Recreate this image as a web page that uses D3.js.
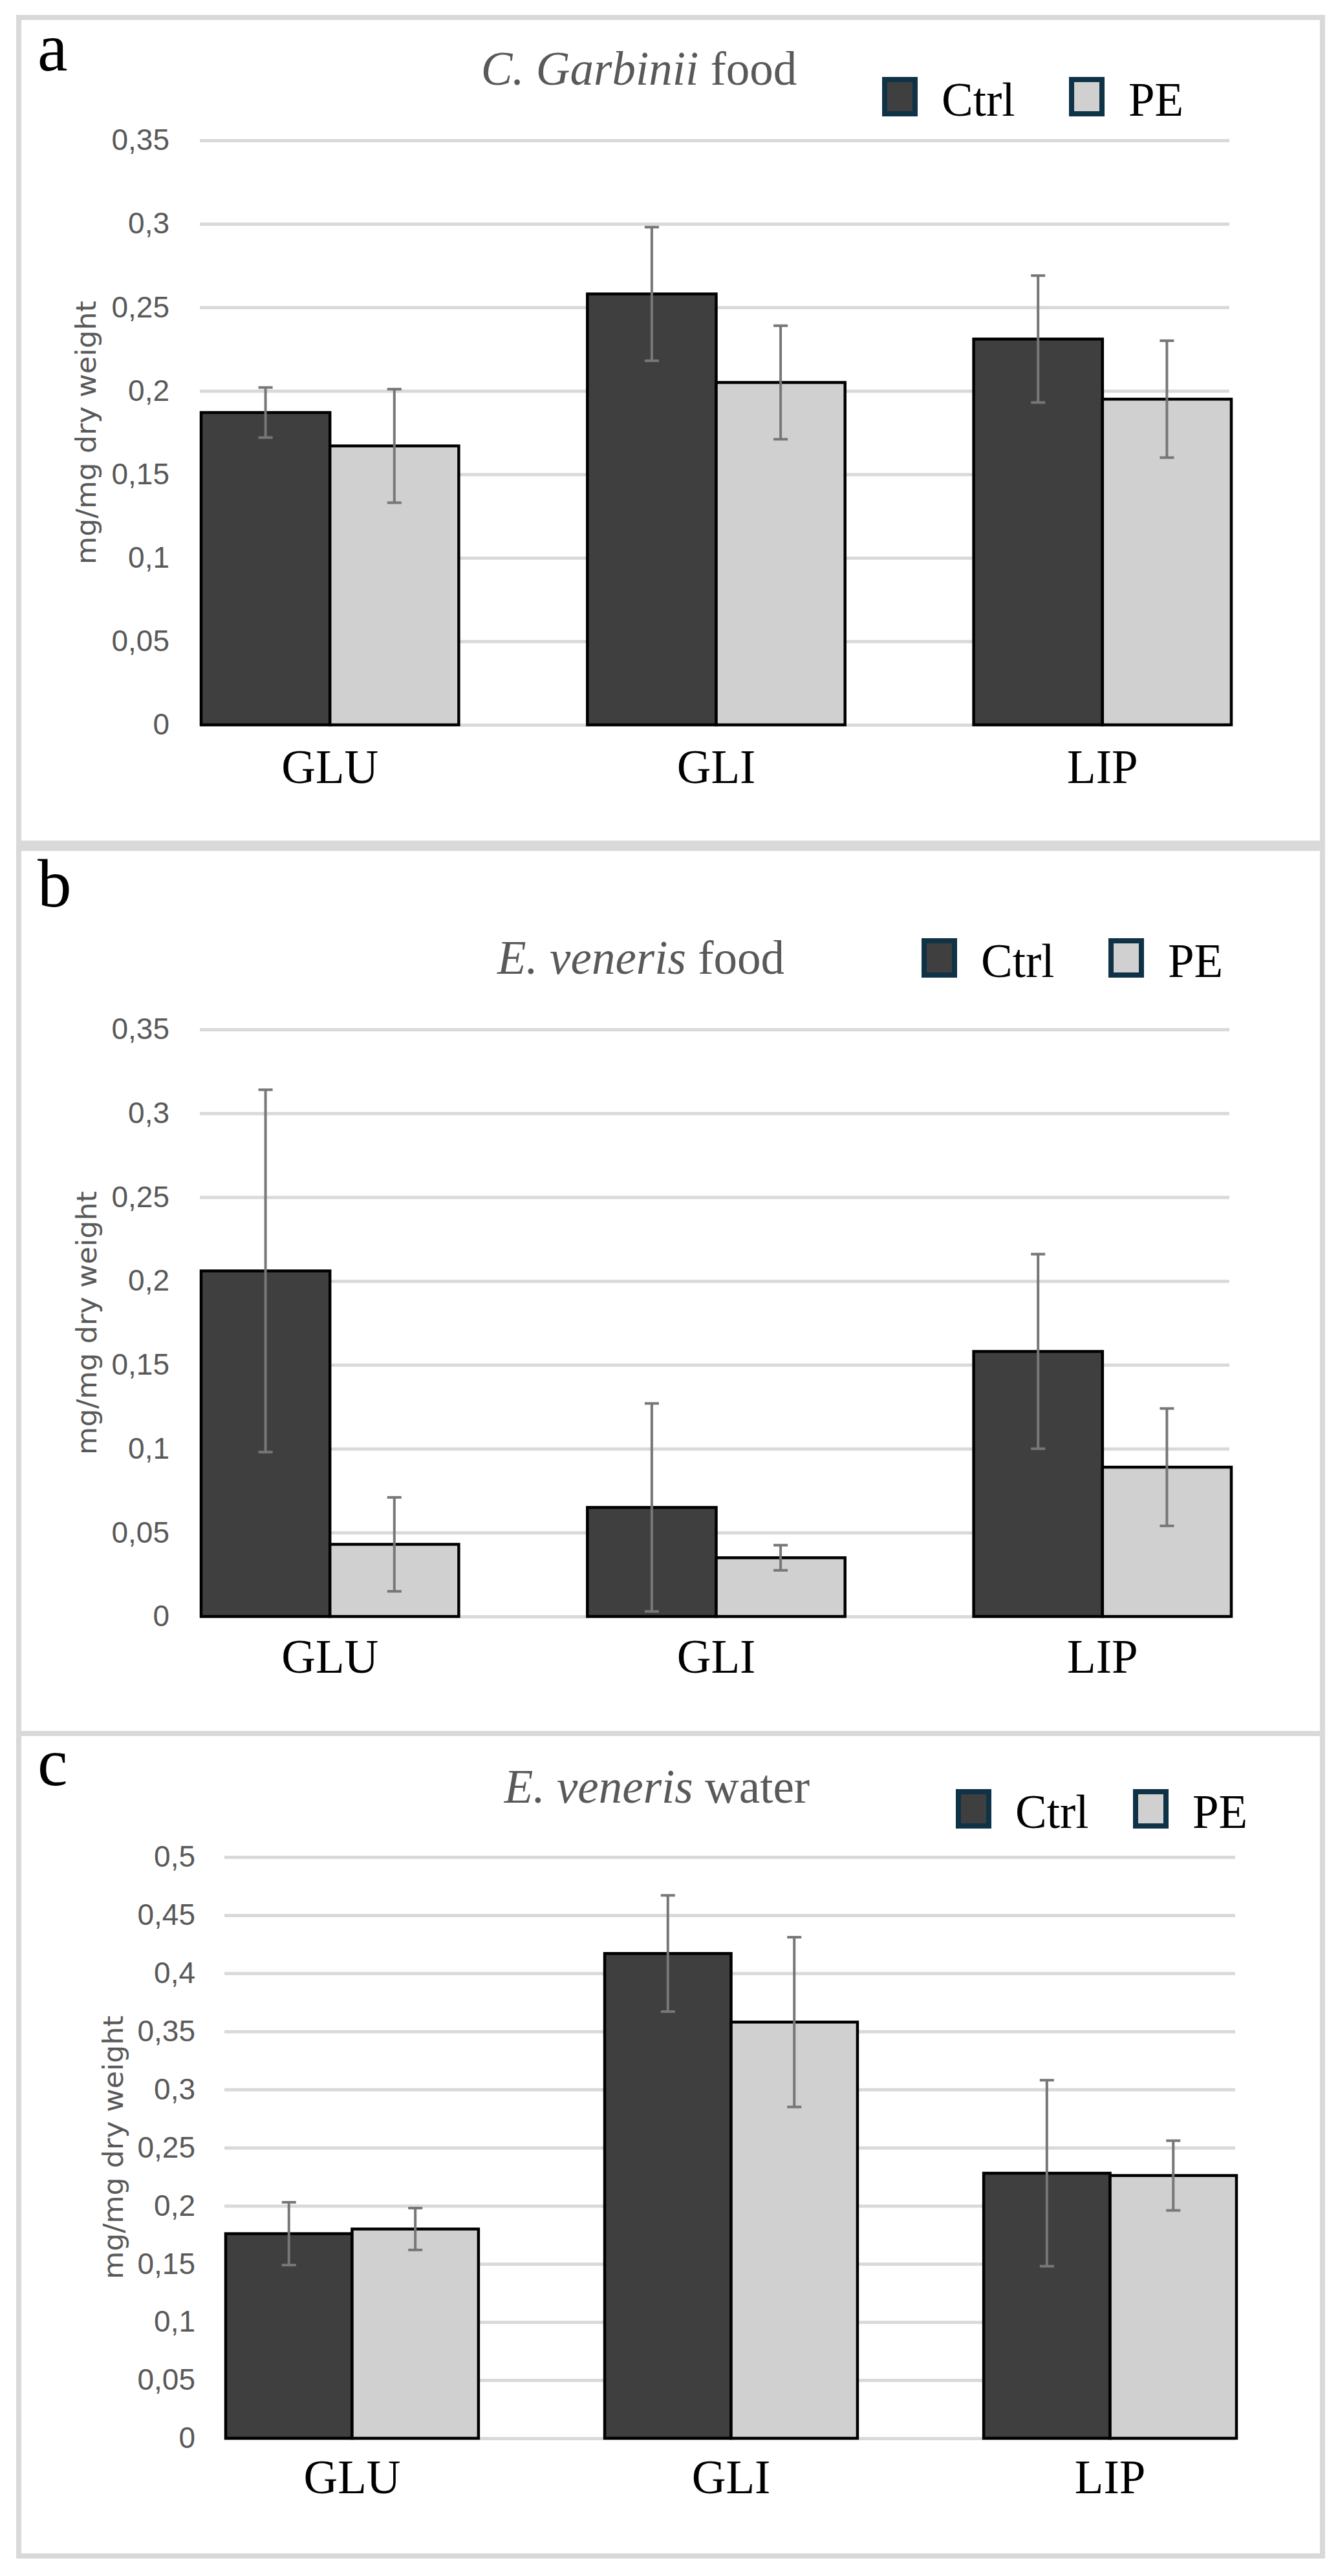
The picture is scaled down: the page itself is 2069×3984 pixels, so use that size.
<!DOCTYPE html>
<html>
<head>
<meta charset="utf-8">
<script src="https://cdn.jsdelivr.net/npm/d3@7"></script>
<style>
  body { margin: 0; background: #fff; }
</style>
</head>
<body>
<div id="chart"></div>
<script>
// data
const categories = ["GLU", "GLI", "LIP"];
const groups = ["Ctrl", "PE"];

const ctrlA = [0.187, 0.258, 0.231];
const ctrlErrA = [0.015, 0.040, 0.038];
const peA = [0.167, 0.205, 0.195];
const peErrA = [0.034, 0.034, 0.035];

const ctrlB = [0.206, 0.065, 0.158];
const ctrlErrB = [0.108, 0.062, 0.058];
const peB = [0.043, 0.035, 0.089];
const peErrB = [0.028, 0.0075, 0.035];

const ctrlC = [0.176, 0.417, 0.228];
const ctrlErrC = [0.027, 0.050, 0.080];
const peC = [0.180, 0.358, 0.226];
const peErrC = [0.018, 0.073, 0.030];

const ticksAB = [0, 0.05, 0.1, 0.15, 0.2, 0.25, 0.3, 0.35];
const ticksC = [0, 0.05, 0.1, 0.15, 0.2, 0.25, 0.3, 0.35, 0.4, 0.45, 0.5];

const yTitle = "mg/mg dry weight";

const fill = d3.scaleOrdinal().domain(groups).range(["#3f3f3f", "#d0d0d0"]);
const fmt = d3.formatLocale({ decimal: ",", thousands: ".", grouping: [3], currency: ["", "€"] }).format("~g");

const serif = "'Liberation Serif', 'Times New Roman', serif";
const sans = "'Liberation Sans', Arial, sans-serif";

const panels = [
  { letter: "a", italic: "C. Garbinii", rest: " food",
    ctrl: ctrlA, ctrlErr: ctrlErrA, pe: peA, peErr: peErrA, ticks: ticksAB,
    box: [29, 27, 2045, 1304], x: [311, 1904], grid: [309, 1901], y: [1121, 217],
    letterY: 109, titleX: 988, titleY: 131, legX: [1364, 1653], legY: 119,
    labelY: 1211, tickX: 262, yt: [133, 669] },
  { letter: "b", italic: "E. veneris", rest: " food",
    ctrl: ctrlB, ctrlErr: ctrlErrB, pe: peB, peErr: peErrB, ticks: ticksAB,
    box: [29, 1312, 2045, 2681], x: [311, 1904], grid: [309, 1901], y: [2500, 1592],
    letterY: 1402, titleX: 991, titleY: 1506, legX: [1425, 1714], legY: 1451,
    labelY: 2587, tickX: 262, yt: [134, 2046] },
  { letter: "c", italic: "E. veneris", rest: " water",
    ctrl: ctrlC, ctrlErr: ctrlErrC, pe: peC, peErr: peErrC, ticks: ticksC,
    box: [29, 2681, 2045, 3953], x: [349, 1912], grid: [347, 1910], y: [3771, 2872],
    letterY: 2761, titleX: 1016, titleY: 2788, legX: [1478, 1752], legY: 2767,
    labelY: 3856, tickX: 302, yt: [175, 3321] }
];

const svg = d3.select("#chart")
  .append("svg")
  .attr("width", 2069)
  .attr("height", 3984);

panels.forEach((p) => {
  const g = svg.append("g");

  // panel frame
  g.append("rect")
    .attr("x", p.box[0])
    .attr("y", p.box[1])
    .attr("width", p.box[2] - p.box[0])
    .attr("height", p.box[3] - p.box[1])
    .attr("fill", "none")
    .attr("stroke", "#d9d9d9")
    .attr("stroke-width", 8);

  const xScale = d3.scaleBand()
    .domain(categories)
    .range(p.x)
    .paddingInner(0.333)
    .paddingOuter(0);

  const xSub = d3.scaleBand()
    .domain(groups)
    .range([0, xScale.bandwidth()]);

  const yScale = d3.scaleLinear()
    .domain([0, d3.max(p.ticks)])
    .range(p.y);

  // gridlines + tick labels
  const yAxis = d3.axisLeft(yScale)
    .tickValues(p.ticks)
    .tickFormat(fmt)
    .tickSize(-(p.grid[1] - p.grid[0]))
    .tickPadding(p.grid[0] - p.tickX);

  const ya = g.append("g")
    .attr("transform", "translate(" + p.grid[0] + ",0)")
    .call(yAxis);
  ya.select(".domain").remove();
  ya.selectAll("line").attr("stroke", "#d9d9d9").attr("stroke-width", 5);
  ya.selectAll("text")
    .attr("fill", "#595959")
    .style("font-family", sans)
    .style("font-size", "46px");

  // y title
  g.append("text")
    .attr("transform", "translate(" + p.yt[0] + "," + p.yt[1] + ") rotate(-90)")
    .attr("text-anchor", "middle")
    .attr("dy", "0.35em")
    .attr("textLength", 408)
    .attr("lengthAdjust", "spacingAndGlyphs")
    .attr("fill", "#595959")
    .style("font-family", "'DejaVu Sans', sans-serif")
    .style("font-size", "42px")
    .text(yTitle);

  // rows for bars
  const rows = categories.map((c, i) => ({
    cat: c,
    vals: [
      { key: "Ctrl", v: p.ctrl[i], e: p.ctrlErr[i] },
      { key: "PE", v: p.pe[i], e: p.peErr[i] }
    ]
  }));

  const cat = g.selectAll(".cat")
    .data(rows)
    .enter()
    .append("g")
    .attr("class", "cat")
    .attr("transform", (d) => "translate(" + xScale(d.cat) + ",0)");

  cat.selectAll("rect")
    .data((d) => d.vals)
    .enter()
    .append("rect")
    .attr("x", (d) => xSub(d.key))
    .attr("y", (d) => yScale(d.v))
    .attr("width", xSub.bandwidth())
    .attr("height", (d) => yScale(0) - yScale(d.v))
    .attr("fill", (d) => fill(d.key))
    .attr("stroke", "#000")
    .attr("stroke-width", 4.5);

  // error bars
  const err = cat.selectAll(".err")
    .data((d) => d.vals)
    .enter()
    .append("g")
    .attr("class", "err")
    .attr("transform", (d) => "translate(" + (xSub(d.key) + xSub.bandwidth() / 2) + ",0)")
    .attr("stroke", "#777")
    .attr("stroke-width", 4);

  err.append("line")
    .attr("y1", (d) => yScale(d.v + d.e))
    .attr("y2", (d) => yScale(d.v - d.e));
  err.append("line")
    .attr("x1", -11).attr("x2", 11)
    .attr("y1", (d) => yScale(d.v + d.e))
    .attr("y2", (d) => yScale(d.v + d.e));
  err.append("line")
    .attr("x1", -11).attr("x2", 11)
    .attr("y1", (d) => yScale(d.v - d.e))
    .attr("y2", (d) => yScale(d.v - d.e));

  // category labels
  const xa = g.append("g")
    .attr("transform", "translate(0," + p.labelY + ")")
    .call(d3.axisBottom(xScale).tickSize(0).tickPadding(0));
  xa.select(".domain").remove();
  xa.selectAll("text")
    .attr("y", 0)
    .attr("dy", 0)
    .attr("fill", "#000")
    .style("font-family", serif)
    .style("font-size", "73px");

  // panel letter
  g.append("text")
    .attr("x", 58)
    .attr("y", p.letterY)
    .style("font-family", serif)
    .style("font-size", "105px")
    .text(p.letter);

  // title
  const t = g.append("text")
    .attr("x", p.titleX)
    .attr("y", p.titleY)
    .attr("text-anchor", "middle")
    .attr("fill", "#595959")
    .style("font-family", serif)
    .style("font-size", "73px");
  t.append("tspan").style("font-style", "italic").text(p.italic);
  t.append("tspan").text(p.rest);

  // legend
  const leg = g.selectAll(".leg")
    .data(groups)
    .enter()
    .append("g")
    .attr("class", "leg")
    .attr("transform", (d, i) => "translate(" + p.legX[i] + "," + p.legY + ")");

  leg.append("rect")
    .attr("x", 4)
    .attr("y", 4)
    .attr("width", 47)
    .attr("height", 53)
    .attr("fill", (d) => fill(d))
    .attr("stroke", "#0f3246")
    .attr("stroke-width", 8);

  leg.append("text")
    .attr("x", 92)
    .attr("y", 60)
    .style("font-family", serif)
    .style("font-size", "73px")
    .text((d) => d);
});
</script>
</body>
</html>
